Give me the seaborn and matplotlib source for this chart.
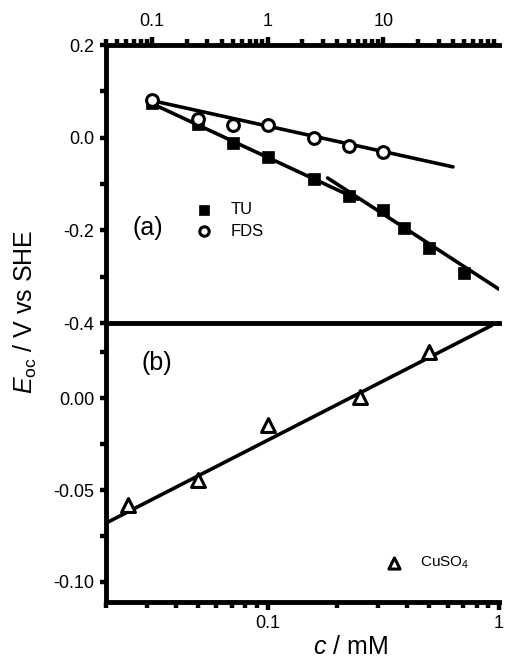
import matplotlib
matplotlib.use("Agg")
import matplotlib.pyplot as plt
import matplotlib.ticker as mticker
import seaborn as sns
import numpy as np

# ---------------- data ----------------
tu_c = [0.1, 0.25, 0.5, 1.0, 2.5, 5.0, 10.0, 15.0, 25.0, 50.0]
tu_E = [0.075, 0.030, -0.011, -0.042, -0.089, -0.126, -0.156, -0.195, -0.238, -0.292]

fds_c = [0.1, 0.25, 0.5, 1.0, 2.5, 5.0, 10.0]
fds_E = [0.081, 0.040, 0.027, 0.027, -0.001, -0.018, -0.031]

cu_c = [0.025, 0.05, 0.1, 0.25, 0.5]
cu_E = [-0.058, -0.0446, -0.0147, 0.0005, 0.025]

# fitted lines (end points)
tu_fit1_c = [0.1, 6.0]
tu_fit1_E = [0.0735, -0.133]
tu_fit2_c = [3.3, 100.0]
tu_fit2_E = [-0.087, -0.327]
fds_fit_c = [0.1, 40.0]
fds_fit_E = [0.080, -0.063]
cu_fit_c = [0.02, 0.93]
cu_fit_E = [-0.068, 0.0397]

top_xticklabels = ["0.1", "1", "10"]
bot_xticklabels = ["0.1", "1"]

# ---------------- style ----------------
sns.set_style("ticks")
plt.rcParams['font.family'] = ['Liberation Sans', 'DejaVu Sans']
plt.rcParams['mathtext.fontset'] = 'custom'
plt.rcParams['mathtext.rm'] = 'Liberation Sans'
plt.rcParams['mathtext.it'] = 'Liberation Sans:italic'
plt.rcParams['axes.unicode_minus'] = False
for k in ['axes.edgecolor', 'xtick.color', 'ytick.color', 'text.color',
          'axes.labelcolor', 'xtick.labelcolor', 'ytick.labelcolor']:
    plt.rcParams[k] = 'black'

fig = plt.figure(figsize=(5.05, 6.63), dpi=100)
ax2 = fig.add_axes([0.2099, 0.0920, 0.7782, 0.4208])
ax1 = fig.add_axes([0.2099, 0.5128, 0.7782, 0.4193])
ax1.patch.set_alpha(0)
ax2.patch.set_alpha(0)

LW = 2.6
SP = 3.5

# ---- top panel ----
sns.lineplot(x=tu_fit1_c, y=tu_fit1_E, ax=ax1, color='black', lw=LW, sort=False, estimator=None)
sns.lineplot(x=tu_fit2_c, y=tu_fit2_E, ax=ax1, color='black', lw=LW, sort=False, estimator=None)
sns.lineplot(x=fds_fit_c, y=fds_fit_E, ax=ax1, color='black', lw=LW, sort=False, estimator=None)
sns.scatterplot(x=tu_c, y=tu_E, ax=ax1, marker='s', s=68, color='black',
                edgecolor='black', linewidth=0.5, label='TU', zorder=3, legend=False)
sns.scatterplot(x=fds_c, y=fds_E, ax=ax1, marker='o', s=72, color='white',
                edgecolor='black', linewidth=2.2, label='FDS', zorder=3, legend=False)

ax1.set_xscale('log')
ax1.set_xlim(0.04, 100)
ax1.set_ylim(-0.4, 0.2)
ax1.xaxis.tick_top()
ax1.xaxis.set_major_locator(mticker.FixedLocator([0.1, 1, 10]))
ax1.xaxis.set_major_formatter(mticker.FixedFormatter(top_xticklabels))
ax1.xaxis.set_minor_locator(mticker.LogLocator(base=10, subs=np.arange(2, 10), numticks=20))
ax1.xaxis.set_minor_formatter(mticker.NullFormatter())
ax1.yaxis.set_major_locator(mticker.MultipleLocator(0.2))
ax1.yaxis.set_minor_locator(mticker.MultipleLocator(0.1))
ax1.yaxis.set_major_formatter(mticker.FormatStrFormatter('%.1f'))
ax1.spines['right'].set_visible(False)
for s in ['left', 'top', 'bottom']:
    ax1.spines[s].set_linewidth(SP)
ax1.tick_params(axis='x', which='major', direction='out', length=6, width=3.2, pad=5, labelsize=13)
ax1.tick_params(axis='x', which='minor', direction='out', length=4, width=3.2)
ax1.tick_params(axis='y', which='major', direction='out', length=4.5, width=3.2, pad=4, labelsize=13)
ax1.tick_params(axis='y', which='minor', direction='out', length=4, width=3.2)
ax1.set_xlabel('')
ax1.set_ylabel('')

h, l = ax1.get_legend_handles_labels()
ax1.legend(h, l, loc='center left', bbox_to_anchor=(0.228, 0.369), frameon=False,
           borderpad=0, borderaxespad=0, handlelength=1.0, handletextpad=1.1,
           labelspacing=0.4, fontsize=12, markerscale=0.8)
ax1.text(0.107, 0.342, '(a)', transform=ax1.transAxes, fontsize=18, ha='center', va='center')

# ---- bottom panel ----
sns.lineplot(x=cu_fit_c, y=cu_fit_E, ax=ax2, color='black', lw=LW, sort=False, estimator=None)
sns.scatterplot(x=cu_c, y=cu_E, ax=ax2, marker='^', s=100, color='white',
                edgecolor='black', linewidth=2.2, label='CuSO$_4$', zorder=3, legend=False)
ax2.set_xscale('log')
ax2.set_xlim(0.02, 1)
ax2.set_ylim(-0.111, 0.041)
ax2.xaxis.set_major_locator(mticker.FixedLocator([0.1, 1]))
ax2.xaxis.set_major_formatter(mticker.FixedFormatter(bot_xticklabels))
ax2.xaxis.set_minor_locator(mticker.LogLocator(base=10, subs=np.arange(2, 10), numticks=20))
ax2.xaxis.set_minor_formatter(mticker.NullFormatter())
ax2.yaxis.set_major_locator(mticker.MultipleLocator(0.05))
ax2.yaxis.set_minor_locator(mticker.MultipleLocator(0.025))
ax2.yaxis.set_major_formatter(mticker.FormatStrFormatter('%.2f'))
ax2.spines['right'].set_visible(False)
ax2.spines['top'].set_visible(False)
for s in ['left', 'bottom']:
    ax2.spines[s].set_linewidth(SP)
ax2.tick_params(axis='x', which='major', direction='out', length=6, width=3.2, pad=3, labelsize=13)
ax2.tick_params(axis='x', which='minor', direction='out', length=4, width=3.2)
ax2.tick_params(axis='y', which='major', direction='out', length=4.5, width=3.2, pad=4, labelsize=13)
ax2.tick_params(axis='y', which='minor', direction='out', length=4, width=3.2)
ax2.set_xlabel('')
ax2.set_ylabel('')

h2, l2 = ax2.get_legend_handles_labels()
ax2.legend(h2, l2, loc='center left', bbox_to_anchor=(0.7135, 0.14), frameon=False,
           borderpad=0, borderaxespad=0, handlelength=1.0, handletextpad=1.2,
           fontsize=11, markerscale=0.8)
ax2.text(0.130, 0.857, '(b)', transform=ax2.transAxes, fontsize=18, ha='center', va='center')

# axis labels
fig.text(0.050, 1 - 312 / 663, r'$E_{\mathrm{oc}}$ / V vs SHE', rotation=90,
         fontsize=18, ha='center', va='center')
fig.text(350 / 505, 1 - 647 / 663, r'$c$ / mM', fontsize=18, ha='center', va='center')

fig.savefig('out.png', dpi=100)
